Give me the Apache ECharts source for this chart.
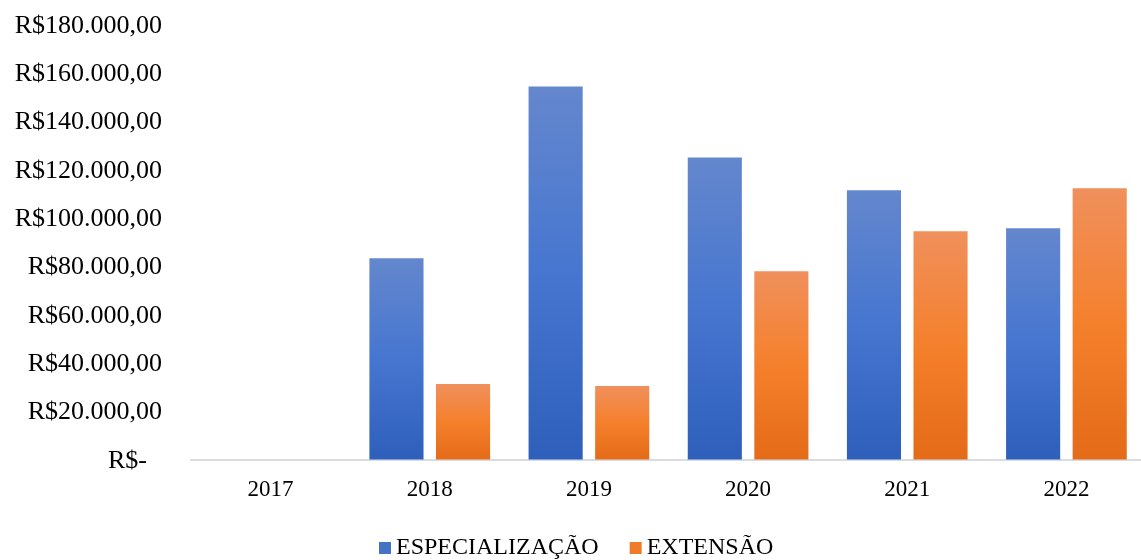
<!DOCTYPE html>
<html>
<head>
<meta charset="utf-8">
<style>
  html, body { margin: 0; padding: 0; background: #fff; }
  #chart { width: 1141px; height: 560px; }
</style>
<script src="https://cdn.jsdelivr.net/npm/echarts@6/dist/echarts.min.js"></script>
</head>
<body>
<div id="chart"></div>
<script>
// Annual amounts per program type (R$)
const years = ['2017', '2018', '2019', '2020', '2021', '2022'];
const especializacao = [null, 83300, 154300, 125000, 111400, 95700];
const extensao = [null, 31200, 30400, 77900, 94400, 112200];
const seriesNames = ['ESPECIALIZAÇÃO', 'EXTENSÃO'];

const fontFamily = '"Liberation Serif", "Times New Roman", serif';

// Accounting-style currency label: zero shows as "R$-"
function brl(v) {
  if (v === 0) return '{zero|R$-}';
  const s = Math.round(v).toString().replace(/\B(?=(\d{3})+(?!\d))/g, '.');
  return 'R$' + s + ',00';
}

function grad(top, mid, bottom) {
  return new echarts.graphic.LinearGradient(0, 0, 0, 1, [
    { offset: 0, color: top },
    { offset: 0.5, color: mid },
    { offset: 1, color: bottom }
  ]);
}

const chart = echarts.init(document.getElementById('chart'), null, { renderer: 'canvas' });

chart.setOption({
  backgroundColor: '#ffffff',
  animation: false,
  grid: {
    left: 191, width: 955, top: 24.5, bottom: 100.5,
    containLabel: false, outerBoundsMode: 'none'
  },
  legend: {
    left: 374,
    top: 531,
    itemWidth: 12,
    itemHeight: 12,
    itemGap: 31,
    icon: 'rect',
    textStyle: { fontFamily, fontSize: 24, color: '#000' },
    data: [
      { name: seriesNames[0], itemStyle: { color: '#4472c4' } },
      { name: seriesNames[1], itemStyle: { color: '#f07b2a' } }
    ]
  },
  xAxis: {
    type: 'category',
    data: years,
    axisLine: { lineStyle: { color: '#d9dde3', width: 2 } },
    axisTick: { show: false },
    axisLabel: { fontFamily, fontSize: 23, color: '#000', margin: 19 }
  },
  yAxis: {
    type: 'value',
    min: 0,
    max: 180000,
    interval: 20000,
    splitLine: { show: false },
    axisLine: { show: false },
    axisTick: { show: false },
    axisLabel: {
      fontFamily, fontSize: 26, color: '#000', margin: 29,
      padding: [3, 0, 0, 0],
      formatter: brl,
      rich: {
        zero: { fontFamily, fontSize: 26, color: '#000', padding: [0, 15, 0, 0] }
      }
    }
  },
  series: [
    {
      name: seriesNames[0],
      type: 'bar',
      data: especializacao,
      barWidth: '34%',
      barGap: '23%',
      itemStyle: { color: grad('#6487cd', '#4676d0', '#2e5fbb') }
    },
    {
      name: seriesNames[1],
      type: 'bar',
      data: extensao,
      barWidth: '34%',
      itemStyle: { color: grad('#f0905c', '#f5802c', '#e46b18') }
    }
  ]
});
</script>
</body>
</html>
